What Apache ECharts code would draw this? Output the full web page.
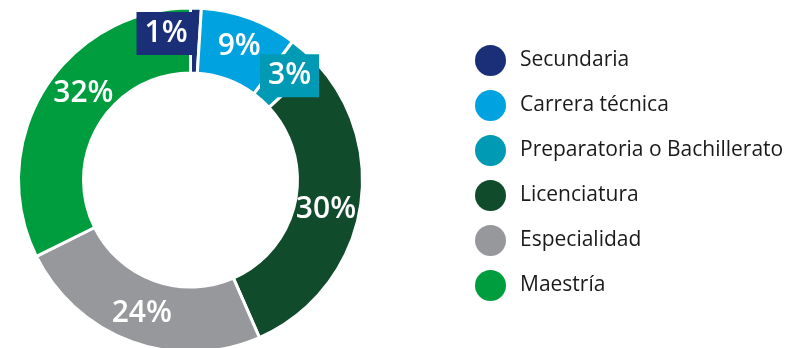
<!DOCTYPE html>
<html>
<head>
<meta charset="utf-8">
<script src="https://cdn.jsdelivr.net/npm/echarts@6/dist/echarts.min.js"></script>
<style>
  html, body { margin: 0; padding: 0; background: #ffffff; }
  #chart { width: 793px; height: 348px; }
</style>
</head>
<body>
<div id="chart"></div>
<script>
// Nivel de estudios: porcentaje por categoría
const categories = ['Secundaria', 'Carrera técnica', 'Preparatoria o Bachillerato', 'Licenciatura', 'Especialidad', 'Maestría'];
const values = [1, 9, 3, 30, 24, 32];
const colors = ['#1b2f78', '#00a3e0', '#009ab4', '#104b2b', '#97989c', '#009d3e'];

// Etiquetas que llevan caja de color y pequeños desplazamientos de etiqueta
const boxedLabels = { 'Secundaria': true, 'Preparatoria o Bachillerato': true };
const labelNudge = {
  'Secundaria': [-29, -4],
  'Preparatoria o Bachillerato': [4, 2],
  'Licenciatura': [-4, 0],
  'Maestría': [14, -11]
};

const chart = echarts.init(document.getElementById('chart'), null, { renderer: 'canvas' });

const data = categories.map((name, i) => {
  const item = { name: name, value: values[i], itemStyle: { color: colors[i] } };
  if (boxedLabels[name]) {
    item.label = {
      backgroundColor: colors[i],
      padding: [6, 8, 6, 8],
      lineHeight: 31
    };
  }
  return item;
});

chart.setOption({
  animation: false,
  backgroundColor: '#ffffff',
  legend: {
    orient: 'vertical',
    left: 470,
    top: 40,
    icon: 'circle',
    itemWidth: 31,
    itemHeight: 31,
    itemGap: 14,
    selectedMode: false,
    itemStyle: { borderWidth: 0 },
    textStyle: {
      fontFamily: 'Open Sans',
      fontSize: 21,
      color: '#1a1a1a',
      padding: [0, 0, 0, 9]
    },
    data: categories
  },
  series: [{
    type: 'pie',
    center: [190.5, 180],
    radius: [107, 172],
    startAngle: 90,
    clockwise: true,
    avoidLabelOverlap: false,
    itemStyle: { borderColor: '#ffffff', borderWidth: 3 },
    label: {
      show: true,
      position: 'inside',
      formatter: '{c}%',
      color: '#ffffff',
      fontFamily: 'Open Sans',
      fontSize: 30,
      fontWeight: 600
    },
    labelLine: { show: false },
    labelLayout: function (params) {
      const n = labelNudge[categories[params.dataIndex]];
      return n ? { dx: n[0], dy: n[1] } : {};
    },
    emphasis: { disabled: true },
    data: data
  }]
});
</script>
</body>
</html>
